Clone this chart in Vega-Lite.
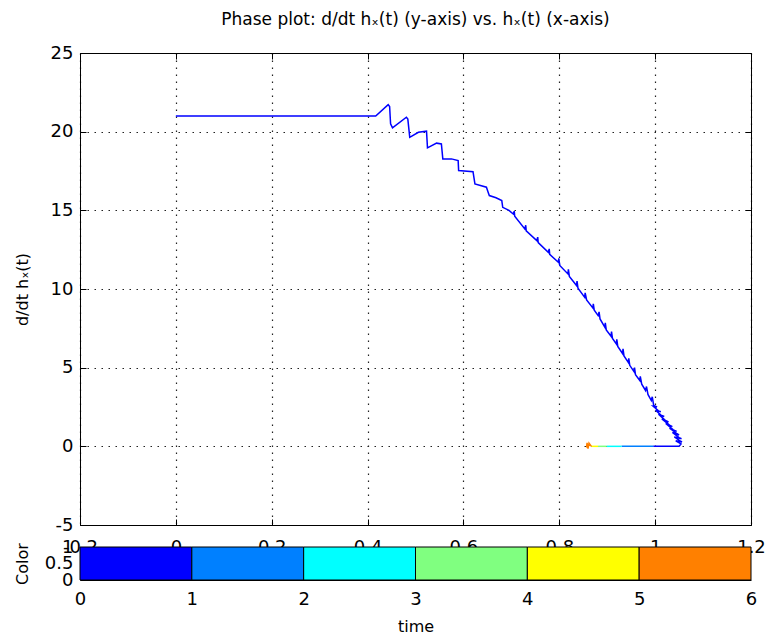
{
  "$schema": "https://vega.github.io/schema/vega-lite/v6.json",
  "background": "white",
  "padding": {"left": 14, "top": 11, "right": 10, "bottom": 4},
  "spacing": 22,
  "bounds": "flush",
  "config": {
    "view": {"stroke": null},
    "font": "DejaVu Sans",
    "axis": {
      "domainColor": "black", "tickColor": "black", "labelColor": "black", "titleColor": "black",
      "labelFont": "DejaVu Sans", "titleFont": "DejaVu Sans", "labelFontSize": 18,
      "titleFontSize": 16, "titleFontWeight": "normal", "gridColor": "#222222", "gridDash": [1.5, 5.5],
      "gridOpacity": 1, "gridWidth": 1.2, "domainWidth": 1, "tickWidth": 1
    }
  },
  "datasets": {
    "curve": [
      {"i": 1, "x": 0.0, "y": 21.0, "seg": "a"},
      {"i": 2, "x": 0.417, "y": 21.0, "seg": "a"},
      {"i": 3, "x": 0.443, "y": 21.72, "seg": "a"},
      {"i": 4, "x": 0.446, "y": 21.6, "seg": "a"},
      {"i": 5, "x": 0.448, "y": 20.5, "seg": "a"},
      {"i": 6, "x": 0.452, "y": 20.24, "seg": "a"},
      {"i": 7, "x": 0.481, "y": 20.92, "seg": "a"},
      {"i": 8, "x": 0.484, "y": 20.8, "seg": "a"},
      {"i": 9, "x": 0.488, "y": 19.64, "seg": "a"},
      {"i": 10, "x": 0.506, "y": 19.96, "seg": "a"},
      {"i": 11, "x": 0.523, "y": 20.03, "seg": "a"},
      {"i": 12, "x": 0.525, "y": 18.97, "seg": "a"},
      {"i": 13, "x": 0.544, "y": 19.27, "seg": "a"},
      {"i": 14, "x": 0.554, "y": 19.22, "seg": "a"},
      {"i": 15, "x": 0.557, "y": 18.27, "seg": "a"},
      {"i": 16, "x": 0.575, "y": 18.27, "seg": "a"},
      {"i": 17, "x": 0.589, "y": 18.16, "seg": "a"},
      {"i": 18, "x": 0.59, "y": 17.53, "seg": "a"},
      {"i": 19, "x": 0.62, "y": 17.46, "seg": "a"},
      {"i": 20, "x": 0.624, "y": 16.68, "seg": "a"},
      {"i": 21, "x": 0.648, "y": 16.47, "seg": "a"},
      {"i": 22, "x": 0.651, "y": 16.2, "seg": "a"},
      {"i": 23, "x": 0.654, "y": 15.94, "seg": "a"},
      {"i": 24, "x": 0.668, "y": 15.8, "seg": "a"},
      {"i": 25, "x": 0.68, "y": 15.62, "seg": "a"},
      {"i": 26, "x": 0.682, "y": 15.19, "seg": "a"},
      {"i": 27, "x": 0.695, "y": 15.0, "seg": "a"},
      {"i": 28, "x": 0.704, "y": 14.77, "seg": "a"},
      {"i": 29, "x": 0.706, "y": 14.95, "seg": "a"},
      {"i": 30, "x": 0.707, "y": 14.62, "seg": "a"},
      {"i": 31, "x": 0.728, "y": 13.82, "seg": "a"},
      {"i": 32, "x": 0.73, "y": 14.05, "seg": "a"},
      {"i": 33, "x": 0.731, "y": 13.7, "seg": "a"},
      {"i": 34, "x": 0.753, "y": 13.08, "seg": "a"},
      {"i": 35, "x": 0.755, "y": 13.3, "seg": "a"},
      {"i": 36, "x": 0.756, "y": 12.95, "seg": "a"},
      {"i": 37, "x": 0.777, "y": 12.33, "seg": "a"},
      {"i": 38, "x": 0.779, "y": 12.55, "seg": "a"},
      {"i": 39, "x": 0.78, "y": 12.2, "seg": "a"},
      {"i": 40, "x": 0.798, "y": 11.7, "seg": "a"},
      {"i": 41, "x": 0.799, "y": 11.95, "seg": "a"},
      {"i": 42, "x": 0.801, "y": 11.5, "seg": "a"},
      {"i": 43, "x": 0.818, "y": 10.96, "seg": "a"},
      {"i": 44, "x": 0.819, "y": 11.25, "seg": "a"},
      {"i": 45, "x": 0.821, "y": 10.8, "seg": "a"},
      {"i": 46, "x": 0.836, "y": 10.22, "seg": "a"},
      {"i": 47, "x": 0.837, "y": 10.5, "seg": "a"},
      {"i": 48, "x": 0.839, "y": 10.05, "seg": "a"},
      {"i": 49, "x": 0.853, "y": 9.47, "seg": "a"},
      {"i": 50, "x": 0.854, "y": 9.75, "seg": "a"},
      {"i": 51, "x": 0.857, "y": 9.3, "seg": "a"},
      {"i": 52, "x": 0.87, "y": 8.8, "seg": "a"},
      {"i": 53, "x": 0.871, "y": 9.05, "seg": "a"},
      {"i": 54, "x": 0.873, "y": 8.65, "seg": "a"},
      {"i": 55, "x": 0.881, "y": 8.31, "seg": "a"},
      {"i": 56, "x": 0.883, "y": 8.55, "seg": "a"},
      {"i": 57, "x": 0.885, "y": 8.1, "seg": "a"},
      {"i": 58, "x": 0.895, "y": 7.57, "seg": "a"},
      {"i": 59, "x": 0.896, "y": 7.85, "seg": "a"},
      {"i": 60, "x": 0.898, "y": 7.4, "seg": "a"},
      {"i": 61, "x": 0.908, "y": 7.0, "seg": "a"},
      {"i": 62, "x": 0.909, "y": 7.3, "seg": "a"},
      {"i": 63, "x": 0.911, "y": 6.85, "seg": "a"},
      {"i": 64, "x": 0.919, "y": 6.51, "seg": "a"},
      {"i": 65, "x": 0.92, "y": 6.8, "seg": "a"},
      {"i": 66, "x": 0.922, "y": 6.35, "seg": "a"},
      {"i": 67, "x": 0.932, "y": 5.9, "seg": "a"},
      {"i": 68, "x": 0.933, "y": 6.2, "seg": "a"},
      {"i": 69, "x": 0.935, "y": 5.75, "seg": "a"},
      {"i": 70, "x": 0.944, "y": 5.34, "seg": "a"},
      {"i": 71, "x": 0.945, "y": 5.6, "seg": "a"},
      {"i": 72, "x": 0.947, "y": 5.15, "seg": "a"},
      {"i": 73, "x": 0.956, "y": 4.75, "seg": "a"},
      {"i": 74, "x": 0.957, "y": 5.0, "seg": "a"},
      {"i": 75, "x": 0.959, "y": 4.55, "seg": "a"},
      {"i": 76, "x": 0.968, "y": 4.18, "seg": "a"},
      {"i": 77, "x": 0.969, "y": 4.45, "seg": "a"},
      {"i": 78, "x": 0.972, "y": 3.95, "seg": "a"},
      {"i": 79, "x": 0.98, "y": 3.55, "seg": "a"},
      {"i": 80, "x": 0.982, "y": 3.8, "seg": "a"},
      {"i": 81, "x": 0.985, "y": 3.3, "seg": "a"},
      {"i": 82, "x": 0.992, "y": 2.91, "seg": "a"},
      {"i": 83, "x": 0.994, "y": 3.15, "seg": "a"},
      {"i": 84, "x": 0.997, "y": 2.6, "seg": "a"},
      {"i": 85, "x": 1.004, "y": 2.5, "seg": "a"},
      {"i": 86, "x": 0.996, "y": 2.55, "seg": "a"},
      {"i": 87, "x": 1.007, "y": 2.25, "seg": "a"},
      {"i": 88, "x": 1.012, "y": 2.2, "seg": "a"},
      {"i": 89, "x": 1.001, "y": 2.3, "seg": "a"},
      {"i": 90, "x": 1.013, "y": 1.95, "seg": "a"},
      {"i": 91, "x": 1.019, "y": 1.9, "seg": "a"},
      {"i": 92, "x": 1.007, "y": 2.05, "seg": "a"},
      {"i": 93, "x": 1.021, "y": 1.65, "seg": "a"},
      {"i": 94, "x": 1.028, "y": 1.55, "seg": "a"},
      {"i": 95, "x": 1.014, "y": 1.75, "seg": "a"},
      {"i": 96, "x": 1.03, "y": 1.35, "seg": "a"},
      {"i": 97, "x": 1.036, "y": 1.25, "seg": "a"},
      {"i": 98, "x": 1.022, "y": 1.45, "seg": "a"},
      {"i": 99, "x": 1.038, "y": 1.05, "seg": "a"},
      {"i": 100, "x": 1.045, "y": 0.95, "seg": "a"},
      {"i": 101, "x": 1.03, "y": 1.15, "seg": "a"},
      {"i": 102, "x": 1.046, "y": 0.8, "seg": "a"},
      {"i": 103, "x": 1.05, "y": 0.72, "seg": "a"},
      {"i": 104, "x": 1.036, "y": 0.88, "seg": "a"},
      {"i": 105, "x": 1.05, "y": 0.55, "seg": "a"},
      {"i": 106, "x": 1.055, "y": 0.48, "seg": "a"},
      {"i": 107, "x": 1.04, "y": 0.6, "seg": "a"},
      {"i": 108, "x": 1.052, "y": 0.35, "seg": "a"},
      {"i": 109, "x": 1.056, "y": 0.28, "seg": "a"},
      {"i": 110, "x": 1.043, "y": 0.35, "seg": "a"},
      {"i": 111, "x": 1.054, "y": 0.15, "seg": "a"},
      {"i": 112, "x": 1.05, "y": 0.0, "seg": "a"},
      {"i": 113, "x": 0.996, "y": 0.0, "seg": "a"},
      {"i": 114, "x": 0.996, "y": 0.0, "seg": "b"},
      {"i": 115, "x": 0.93, "y": 0.0, "seg": "b"},
      {"i": 116, "x": 0.93, "y": 0.0, "seg": "c"},
      {"i": 117, "x": 0.899, "y": 0.0, "seg": "c"},
      {"i": 118, "x": 0.899, "y": 0.0, "seg": "d"},
      {"i": 119, "x": 0.881, "y": 0.0, "seg": "d"},
      {"i": 120, "x": 0.881, "y": 0.0, "seg": "e"},
      {"i": 121, "x": 0.867, "y": 0.0, "seg": "e"},
      {"i": 122, "x": 0.867, "y": 0.0, "seg": "f"},
      {"i": 123, "x": 0.862, "y": 0.2, "seg": "f"},
      {"i": 124, "x": 0.86, "y": -0.15, "seg": "f"},
      {"i": 125, "x": 0.858, "y": 0.22, "seg": "f"},
      {"i": 126, "x": 0.857, "y": 0.0, "seg": "f"},
      {"i": 127, "x": 0.859, "y": -0.1, "seg": "f"}
    ],
    "bar": [
      {"t0": 0, "t1": 1, "c": "a"},
      {"t0": 1, "t1": 2, "c": "b"},
      {"t0": 2, "t1": 3, "c": "c"},
      {"t0": 3, "t1": 4, "c": "d"},
      {"t0": 4, "t1": 5, "c": "e"},
      {"t0": 5, "t1": 6, "c": "f"}
    ]
  },
  "vconcat": [
    {
      "width": 671,
      "height": 472,
      "title": {"text": "Phase plot: d/dt hₓ(t) (y-axis) vs. hₓ(t) (x-axis)", "fontSize": 17, "fontWeight": "normal", "font": "DejaVu Sans", "color": "black", "offset": 15},
      "data": {"name": "curve"},
      "layer": [
        {
          "mark": {"type": "line", "strokeWidth": 1.5, "strokeJoin": "miter"},
          "encoding": {
            "x": {"field": "x", "type": "quantitative", "scale": {"domain": [-0.2, 1.2], "nice": false, "zero": false},
              "axis": {"values": [-0.2, 0, 0.2, 0.4, 0.6, 0.8, 1, 1.2], "labelExpr": "'' + datum.value", "title": "hₓ(t)", "titlePadding": 4, "grid": true, "tickSize": -6, "labelPadding": 19, "labelFlush": false, "labelOverlap": false}},
            "y": {"field": "y", "type": "quantitative", "scale": {"domain": [-5, 25], "nice": false, "zero": false},
              "axis": {"values": [-5, 0, 5, 10, 15, 20, 25], "labelExpr": "'' + datum.value", "title": "d/dt hₓ(t)", "grid": true, "tickSize": -6, "labelPadding": 13, "titlePadding": 20, "labelFlush": false, "labelOverlap": false}},
            "color": {"field": "seg", "type": "nominal", "scale": {"domain": ["a", "b", "c", "d", "e", "f"], "range": ["#0000FF", "#0080FF", "#00FFFF", "#80FF80", "#FFFF00", "#FF8000"]}, "legend": null},
            "order": {"field": "i", "type": "quantitative"}
          }
        },
        {
          "mark": {"type": "line", "opacity": 0},
          "encoding": {
            "x": {"field": "x", "type": "quantitative", "axis": {"orient": "top", "values": [-0.2, 0, 0.2, 0.4, 0.6, 0.8, 1, 1.2], "labels": false, "title": null, "grid": false, "tickSize": -6}},
            "y": {"field": "y", "type": "quantitative", "axis": {"orient": "right", "values": [-5, 0, 5, 10, 15, 20, 25], "labels": false, "title": null, "grid": false, "tickSize": -6}},
            "detail": {"field": "seg"},
            "order": {"field": "i", "type": "quantitative"}
          }
        }
      ],
      "resolve": {"axis": {"x": "independent", "y": "independent"}}
    },
    {
      "width": 671,
      "height": 33,
      "data": {"name": "bar"},
      "mark": {"type": "rect", "stroke": "black", "strokeWidth": 1},
      "encoding": {
        "x": {"field": "t0", "type": "quantitative", "scale": {"domain": [0, 6], "nice": false},
          "axis": {"values": [0, 1, 2, 3, 4, 5, 6], "title": "time", "grid": false, "tickSize": 0, "labelPadding": 10, "titlePadding": 10, "labelFlush": false}},
        "x2": {"field": "t1"},
        "y": {"datum": 0, "type": "quantitative", "scale": {"domain": [0, 1], "nice": false},
          "axis": {"values": [0, 0.5, 1], "labelExpr": "'' + datum.value", "labelOverlap": false, "title": "Color", "grid": false, "tickSize": 0, "labelPadding": 7, "titlePadding": 14, "labelFlush": false}},
        "y2": {"datum": 1},
        "fill": {"field": "c", "type": "nominal", "scale": {"domain": ["a", "b", "c", "d", "e", "f"], "range": ["#0000FF", "#0080FF", "#00FFFF", "#80FF80", "#FFFF00", "#FF8000"]}, "legend": null}
      }
    }
  ]
}
